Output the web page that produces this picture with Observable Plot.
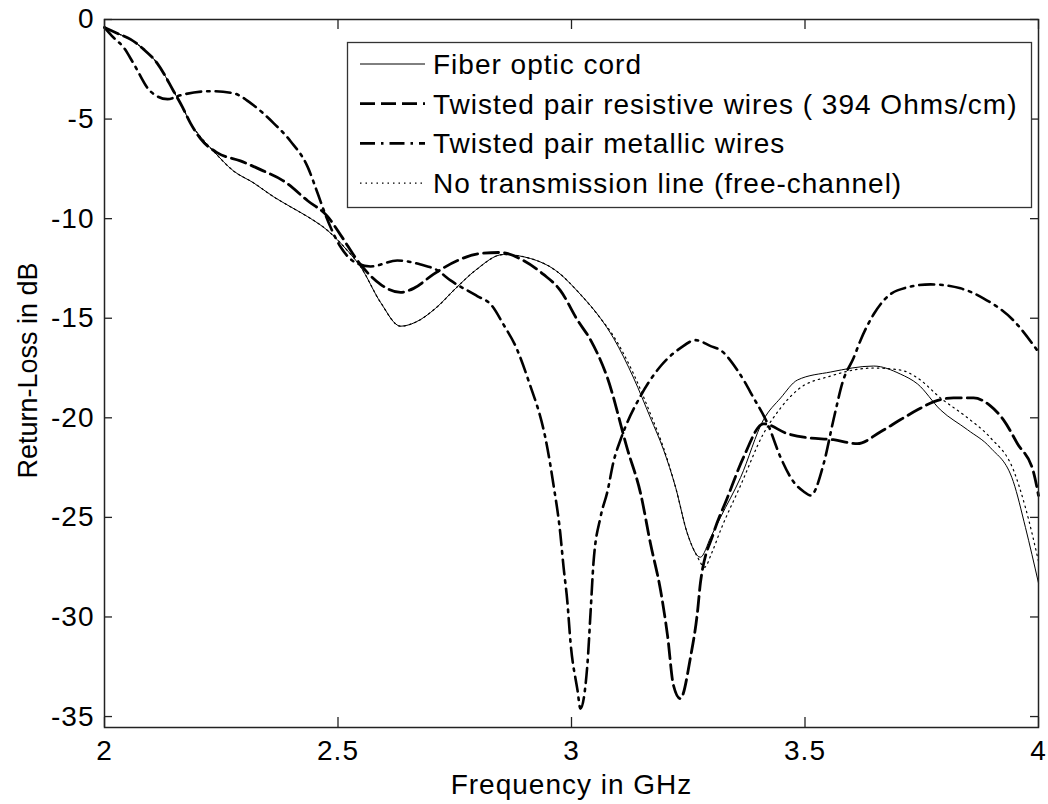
<!DOCTYPE html>
<html><head><meta charset="utf-8">
<script src="https://cdn.jsdelivr.net/npm/d3@7"></script>
<script src="https://cdn.jsdelivr.net/npm/@observablehq/plot@0.6"></script>
<style>
body{margin:0;background:#fff}
svg{font-family:"Liberation Sans",Arial,sans-serif}
</style>
</head><body><div id="chart"></div>
<script>
// ---- data ----
const seriesNames = [
  "Fiber optic cord",
  "Twisted pair resistive wires ( 394 Ohms/cm)",
  "Twisted pair metallic wires",
  "No transmission line (free-channel)"
];
const xTicks = [2, 2.5, 3, 3.5, 4];
const yTicks = [0, -5, -10, -15, -20, -25, -30, -35];

const fiberF = [2.000,2.028,2.056,2.084,2.113,2.148,2.167,2.184,2.206,2.233,2.276,2.319,2.362,2.398,2.435,2.478,2.520,2.548,2.591,2.634,2.666,2.709,2.752,2.794,2.854,2.912,2.966,3.019,3.062,3.090,3.133,3.169,3.197,3.223,3.248,3.276,3.298,3.319,3.362,3.411,3.448,3.484,3.555,3.647,3.704,3.741,3.790,3.848,3.897,3.946,3.972,4.000];
const fiberL = [-0.4,-0.7,-1.0,-1.5,-2.2,-3.6,-4.4,-5.2,-5.9,-6.6,-7.6,-8.2,-8.9,-9.4,-9.9,-10.6,-11.6,-12.4,-14.2,-15.4,-15.2,-14.5,-13.5,-12.6,-11.8,-12.0,-12.6,-13.8,-15.0,-16.0,-18.0,-20.0,-21.6,-23.5,-25.8,-27.0,-26.0,-25.0,-23.0,-20.1,-19.0,-18.1,-17.7,-17.4,-17.8,-18.3,-19.6,-20.6,-21.5,-23.2,-25.5,-28.3];

const resF = [2.000,2.028,2.056,2.084,2.113,2.148,2.167,2.184,2.206,2.242,2.291,2.340,2.383,2.435,2.478,2.505,2.548,2.591,2.634,2.662,2.704,2.756,2.805,2.848,2.897,2.940,2.976,3.013,3.041,3.077,3.120,3.148,3.169,3.191,3.206,3.218,3.233,3.255,3.270,3.276,3.304,3.334,3.368,3.411,3.463,3.505,3.561,3.612,3.662,3.704,3.741,3.775,3.818,3.861,3.897,3.925,3.955,3.989,4.000];
const resL = [-0.4,-0.7,-1.0,-1.5,-2.2,-3.6,-4.4,-5.2,-6.0,-6.7,-7.1,-7.6,-8.1,-9.1,-9.9,-10.8,-12.3,-13.3,-13.7,-13.5,-12.8,-12.1,-11.75,-11.7,-12.1,-12.8,-13.6,-15.1,-16.1,-18.0,-21.6,-23.8,-26.3,-28.7,-31.0,-33.4,-34.1,-32.0,-29.7,-28.3,-25.8,-24.0,-22.0,-20.3,-20.8,-21.0,-21.1,-21.3,-20.7,-20.1,-19.6,-19.2,-19.0,-19.0,-19.4,-20.1,-21.3,-22.7,-23.9];

const metF = [2.000,2.019,2.041,2.062,2.098,2.135,2.163,2.227,2.276,2.313,2.362,2.398,2.435,2.456,2.473,2.505,2.537,2.570,2.627,2.677,2.713,2.741,2.799,2.827,2.854,2.884,2.906,2.949,2.961,2.976,2.983,2.991,2.998,3.013,3.019,3.034,3.041,3.047,3.062,3.077,3.090,3.105,3.148,3.191,3.233,3.266,3.298,3.319,3.355,3.390,3.420,3.448,3.475,3.497,3.512,3.540,3.561,3.582,3.604,3.619,3.647,3.698,3.769,3.833,3.882,3.946,4.000];
const metL = [-0.4,-0.9,-1.4,-2.2,-3.6,-4.0,-3.8,-3.6,-3.7,-4.2,-5.2,-6.1,-7.4,-8.7,-9.8,-11.4,-12.2,-12.4,-12.1,-12.3,-12.6,-13.1,-13.9,-14.3,-15.3,-16.6,-18.0,-21.6,-23.3,-25.8,-27.5,-29.2,-31.3,-33.7,-34.6,-32.4,-29.7,-27.3,-25.0,-23.7,-22.2,-21.1,-18.9,-17.4,-16.5,-16.1,-16.4,-16.6,-17.6,-19.0,-20.3,-22.0,-23.2,-23.7,-23.9,-22.3,-20.1,-18.1,-17.0,-16.1,-14.8,-13.6,-13.3,-13.5,-14.0,-15.1,-16.7];

const freeF = [2.000,2.028,2.056,2.084,2.113,2.148,2.167,2.184,2.206,2.233,2.276,2.319,2.362,2.398,2.435,2.478,2.520,2.548,2.591,2.634,2.666,2.709,2.752,2.794,2.854,2.912,2.966,3.019,3.062,3.090,3.133,3.169,3.197,3.223,3.248,3.270,3.285,3.300,3.320,3.362,3.411,3.448,3.484,3.555,3.647,3.704,3.741,3.790,3.848,3.897,3.946,3.972,4.000];
const freeL = [-0.4,-0.7,-1.0,-1.5,-2.2,-3.6,-4.4,-5.2,-5.9,-6.6,-7.6,-8.2,-8.9,-9.4,-9.9,-10.6,-11.6,-12.4,-14.2,-15.4,-15.2,-14.5,-13.5,-12.6,-11.8,-12.0,-12.6,-13.8,-15.0,-15.9,-17.8,-19.8,-21.5,-23.5,-25.8,-27.0,-27.5,-26.8,-25.6,-23.4,-20.8,-19.5,-18.6,-17.9,-17.5,-17.6,-18.0,-19.0,-20.0,-21.0,-22.6,-24.5,-27.2];

const zip = (F, L) => F.map((f, i) => ({f, v: L[i]}));
const fiber = zip(fiberF, fiberL), res = zip(resF, resL), met = zip(metF, metL), free = zip(freeF, freeL);

// ---- styles ----
const styles = [
  {stroke: "#000", strokeWidth: 1, strokeDasharray: "none"},
  {stroke: "#000", strokeWidth: 2.8, strokeDasharray: "15,6"},
  {stroke: "#000", strokeWidth: 2.6, strokeDasharray: "15,6,2.5,6"},
  {stroke: "#000", strokeWidth: 1.2, strokeDasharray: "1.5,4"}
];

const W = 1048, H = 804, mL = 104, mR = 10, mT = 19, mB = 77;
const plotW = W - mL - mR, plotH = H - mT - mB;
const lineOpts = (s) => ({x: "f", y: "v", curve: "monotone-x", stroke: s.stroke, strokeWidth: s.strokeWidth, strokeDasharray: s.strokeDasharray === "none" ? undefined : s.strokeDasharray});

const plot = Plot.plot({
  width: W, height: H,
  marginLeft: mL, marginRight: mR, marginTop: mT, marginBottom: mB,
  style: {fontFamily: "'Liberation Sans', Arial, sans-serif", fontSize: "28px", color: "#000", background: "#fff", letterSpacing: "1px"},
  x: {domain: [2, 4]},
  y: {domain: [-35.55, 0]},
  marks: [
    Plot.line(free, lineOpts(styles[3])),
    Plot.line(met, lineOpts(styles[2])),
    Plot.line(res, lineOpts(styles[1])),
    Plot.line(fiber, lineOpts(styles[0])),
    Plot.frame({stroke: "#222", strokeWidth: 1.5}),
    Plot.tickX(xTicks, {x: d => d, insetTop: plotH - 10, stroke: "#222", strokeWidth: 1.3}),
    Plot.tickX(xTicks, {x: d => d, insetBottom: plotH - 10, stroke: "#222", strokeWidth: 1.3}),
    Plot.tickY(yTicks, {y: d => d, insetRight: plotW - 8, stroke: "#222", strokeWidth: 1.3}),
    Plot.tickY(yTicks, {y: d => d, insetLeft: plotW - 8, stroke: "#222", strokeWidth: 1.3}),
    Plot.axisX(xTicks, {tickSize: 0, tickPadding: 13, tickFormat: d => String(d), label: null, fontSize: 28}),
    Plot.axisY(yTicks, {tickSize: 0, tickPadding: 10, tickFormat: d => String(d), label: null, fontSize: 28}),
    Plot.text(["Frequency in GHz"], {frameAnchor: "bottom", textAnchor: "middle", lineAnchor: "bottom", dy: 66, fontSize: 28, fill: "#000"}),
    Plot.text(["Return-Loss in dB"], {frameAnchor: "left", textAnchor: "middle", rotate: -90, dx: -76, dy: -3, fontSize: 27, fill: "#000"})
  ]
});

// y label: no letter spacing
d3.select(plot).selectAll("text").filter(function(){ return this.textContent === "Return-Loss in dB"; }).style("letter-spacing", "0px");

// ---- legend inside the axes ----
const svg = d3.select(plot);
const lg = svg.append("g").attr("text-anchor", "start");
lg.append("rect").attr("x", 347.5).attr("y", 42.5).attr("width", 684).attr("height", 165)
  .attr("fill", "#fff").attr("stroke", "#333").attr("stroke-width", 1.3);
seriesNames.forEach((name, i) => {
  const cy = 64 + i * 39.7;
  const s = styles[i];
  lg.append("line").attr("x1", 360).attr("x2", 425).attr("y1", cy).attr("y2", cy)
    .attr("stroke", s.stroke).attr("stroke-width", s.strokeWidth)
    .attr("stroke-dasharray", s.strokeDasharray);
  lg.append("text").attr("x", 433).attr("y", cy + 10).attr("font-size", 28)
    .attr("text-anchor", "start")
    .attr("fill", "#000").style("letter-spacing", "1px").text(name);
});

document.getElementById("chart").appendChild(plot);
</script>
</body></html>
